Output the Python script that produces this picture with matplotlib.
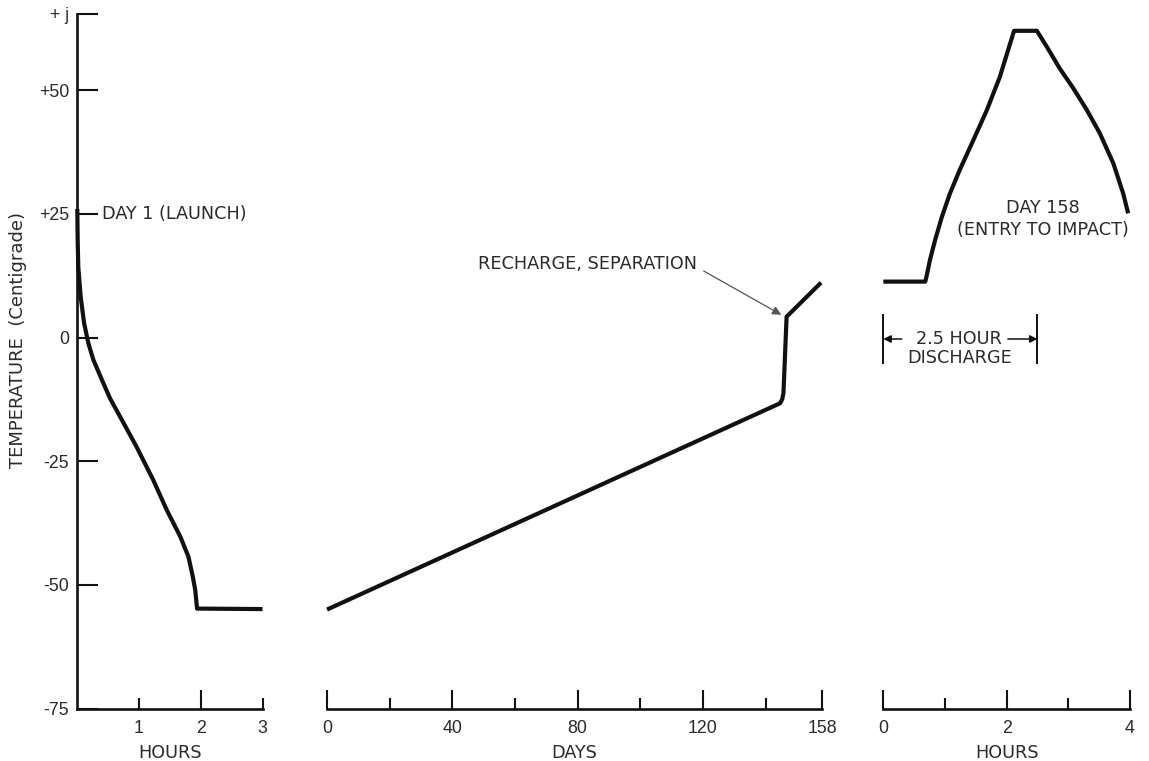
import matplotlib
matplotlib.use("Agg")
import matplotlib.pyplot as plt

plt.rcParams['font.family'] = ['Liberation Sans', 'DejaVu Sans']

# ---- data ----
# Day 1: launch, hours after liftoff
launch_hours = [0.0, 0.006, 0.016, 0.055, 0.11, 0.18, 0.26, 0.40, 0.53, 0.75,
                0.96, 1.23, 1.45, 1.67, 1.80, 1.87, 1.91, 1.94, 3.0]
launch_temp = [26.0, 19.7, 14.3, 8.2, 2.9, -1.2, -4.5, -8.6, -12.3, -17.3,
               -22.1, -28.8, -34.9, -40.3, -44.3, -48.3, -51.0, -54.8, -54.9]

# Cruise, days after launch
cruise_days = [0.0, 144.6, 145.3, 145.7, 146.7, 157.7]
cruise_temp = [-55.0, -13.3, -12.5, -11.2, 4.2, 11.1]

# Day 158: entry to impact, hours
entry_hours = [0.0, 0.68, 0.70, 0.757, 0.84, 0.95, 1.08, 1.24, 1.46, 1.68,
               1.89, 2.12, 2.49, 2.65, 2.86, 3.08, 3.30, 3.51, 3.73, 3.89, 3.97]
entry_temp = [11.3, 11.3, 12.3, 15.7, 19.7, 24.4, 29.1, 33.9, 39.9, 46.0,
              52.7, 62.0, 62.0, 58.8, 54.4, 50.4, 46.0, 41.3, 35.2, 29.1, 25.1]

y_ticks = [-75, -50, -25, 0, 25, 50, 65.4]
y_ticklabels = ['-75', '-50', '-25', '0', '+25', '+50', '+ j']

launch_major = [2]
launch_minor = [1, 3]
cruise_major = [0, 40, 80, 120, 158]
cruise_minor = [20, 60, 100, 140]
entry_major = [0, 2, 4]
entry_minor = [1, 3]

discharge_hours = 2.5

# ---- styling ----
INK = '#111111'
TXT = '#2b2b2b'
FS = 12.8          # tick numbers
WFS = 12.7         # lettering
WORD = ['DejaVu Sans']
W, H = 1149, 761
YLIM = (-75, 65.4)

fig = plt.figure(figsize=(W / 100, H / 100), dpi=100)
fig.patch.set_facecolor('white')


def px_axes(x0, x1, y0=14.0, y1=708.5):
    return fig.add_axes([x0 / W, 1 - y1 / H, (x1 - x0) / W, (y1 - y0) / H])


def style(ax, show_left):
    ax.set_facecolor('none')
    for s in ('top', 'right'):
        ax.spines[s].set_visible(False)
    ax.spines['left'].set_visible(show_left)
    for s in ('left', 'bottom'):
        ax.spines[s].set_linewidth(1.9)
        ax.spines[s].set_color(INK)
    ax.set_ylim(*YLIM)
    ax.tick_params(axis='x', which='major', direction='in', length=13.5,
                   width=1.5, color=INK, labelsize=FS, labelcolor=TXT, pad=8.5)
    ax.tick_params(axis='x', which='minor', direction='in', length=8,
                   width=1.5, color=INK, labelsize=FS, labelcolor=TXT, pad=8.5)
    if show_left:
        ax.set_yticks(y_ticks, labels=y_ticklabels)
        ax.tick_params(axis='y', which='major', direction='in', length=15,
                       width=1.5, color=INK, labelsize=FS, labelcolor=TXT, pad=6)
    else:
        ax.set_yticks([])


def word(ax, x, y, s, **kw):
    ax.text(x, y, s, fontsize=WFS, color=TXT, family=WORD, **kw)


line_kw = dict(color=INK, lw=3.0, solid_joinstyle='round', solid_capstyle='butt',
               clip_on=False)
xlabel_kw = dict(fontsize=WFS, color=TXT, family=WORD, labelpad=5)

# Left panel: launch day
ax1 = px_axes(77.3, 262.5)
style(ax1, True)
ax1.set_xlim(0, 3)
ax1.set_xticks(launch_major, labels=['2'])
ax1.set_xticks(launch_minor, labels=['1', '3'], minor=True)
ax1.plot(launch_hours, launch_temp, **line_kw)
ax1.set_xlabel('HOURS', **xlabel_kw)
word(ax1, 0.4, 25, 'DAY 1 (LAUNCH)', va='center', ha='left')

# Middle panel: cruise
ax2 = px_axes(327.0, 822.0)
style(ax2, False)
ax2.set_xlim(0, 158)
ax2.set_xticks(cruise_major, labels=[str(v) for v in cruise_major])
ax2.set_xticks(cruise_minor, minor=True)
ax2.plot(cruise_days, cruise_temp, **line_kw)
ax2.set_xlabel('DAYS', **xlabel_kw)
ax2.annotate('RECHARGE, SEPARATION', xy=(145.0, 4.6), xytext=(118.2, 14.9),
             fontsize=WFS, color=TXT, family=WORD, ha='right', va='center',
             arrowprops=dict(arrowstyle='-|>', color='#555555', lw=0.9,
                             mutation_scale=13, relpos=(1.0, 0.3),
                             shrinkA=3, shrinkB=0))

# Right panel: entry to impact
ax3 = px_axes(883.3, 1130.0)
style(ax3, False)
ax3.set_xlim(0, 4)
ax3.set_xticks(entry_major, labels=[str(v) for v in entry_major])
ax3.set_xticks(entry_minor, minor=True)
ax3.plot(entry_hours, entry_temp, **line_kw)
ax3.set_xlabel('HOURS', **xlabel_kw)
word(ax3, 2.58, 26.1, 'DAY 158', ha='center', va='center')
word(ax3, 2.58, 21.7, '(ENTRY TO IMPACT)', ha='center', va='center')

# Discharge bracket
for xb in (0.0, discharge_hours):
    ax3.plot([xb, xb], [4.6, -5.2], color=INK, lw=1.4, clip_on=False)
arrow_kw = dict(arrowstyle='-|>', color=INK, lw=1.1, mutation_scale=11,
                shrinkA=0, shrinkB=0)
ax3.annotate('', xy=(0.0, -0.3), xytext=(0.30, -0.3), arrowprops=arrow_kw)
ax3.annotate('', xy=(discharge_hours, -0.3), xytext=(2.02, -0.3), arrowprops=arrow_kw)
word(ax3, 1.22, -0.3, f'{discharge_hours} HOUR', ha='center', va='center')
word(ax3, 1.24, -4.1, 'DISCHARGE', ha='center', va='center')

# Shared y-axis title
fig.text(18 / W, 1 - 340 / H, 'TEMPERATURE  (Centigrade)', rotation=90,
         fontsize=13, color=TXT, family=WORD, ha='center', va='center')

fig.savefig('out.png', dpi=100, facecolor='white')
